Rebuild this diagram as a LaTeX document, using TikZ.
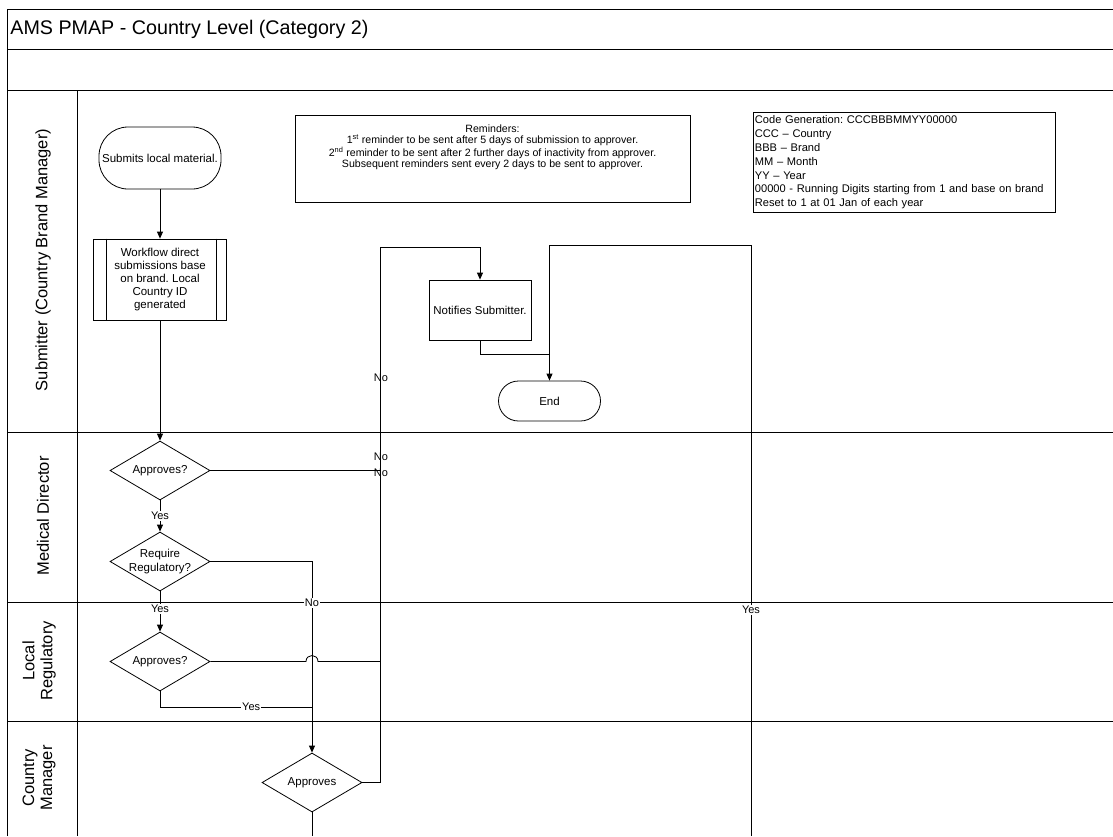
\documentclass[tikz,border=0pt]{standalone}
\usepackage{fontspec}
\setmainfont{Liberation Sans}
\usetikzlibrary{shapes.geometric,arrows.meta}
\frenchspacing

\begin{document}
\begin{tikzpicture}[x=1pt,y=-1pt,line width=0.8pt,font=\fontsize{11.5}{13}\selectfont,
  lane/.style={line width=0.9pt},
  term/.style={draw,rounded corners=#1,inner sep=0pt,align=center},
  proc/.style={draw,inner sep=0pt,align=center},
  decide/.style={draw,diamond,inner sep=0pt,minimum width=100pt,minimum height=59pt,
    label={[align=center,font=\fontsize{11.5}{14}\selectfont]center:#1}},
  flow/.style={-{Triangle[length=7pt,width=6pt]}},
  lbl/.style={fill=white,inner sep=1pt,font=\fontsize{11}{13}\selectfont},
  tag/.style={inner sep=0pt,font=\fontsize{11}{13}\selectfont},
  lanelabel/.style={rotate=90,align=center,font=\fontsize{16.5}{18}\selectfont}]

\useasboundingbox (0,0) rectangle (1113,836);

\draw[lane] (7,836) -- (7,9) -- (1113,9);
\draw[lane] (7,49) -- (1113,49);
\draw[lane] (7,90) -- (1113,90);
\draw[lane] (7,432) -- (1113,432);
\draw[lane] (7,602) -- (1113,602);
\draw[lane] (7,721) -- (1113,721);
\draw[lane] (77,90) -- (77,836);

\node[anchor=west,inner sep=3pt,font=\fontsize{19.7}{22}\selectfont] (title) at (7,29) {AMS PMAP - Country Level (Category 2)};

\node[lanelabel] (subm)  at (43,260) {Submitter (Country Brand Manager)};
\node[lanelabel] (meddir) at (43,516) {Medical Director};
\node[lanelabel] (locreg) at (39,661) {Local\\Regulatory};
\node[lanelabel] (ctrymgr) at (39,778) {Country\\Manager};

\node[term=29pt,minimum width=122pt,minimum height=62pt] (submit) at (160,158) {Submits local material.};
\node[proc,minimum width=133pt,minimum height=81pt] (wf) at (160,279.5) {Workflow direct\\submissions base\\on brand. Local\\Country ID\\generated};
\draw ([xshift=13pt]wf.north west) -- ([xshift=13pt]wf.south west);
\draw ([xshift=-11pt]wf.north east) -- ([xshift=-11pt]wf.south east);

\node[draw,minimum width=395pt,minimum height=87pt] (remind) at (492.5,158.5) {};
\node[align=center,font=\fontsize{10.6}{11.2}\selectfont] (remindtxt) at (492.5,147)
  {Reminders:\\1\textsuperscript{st} reminder to be sent after 5 days of submission to approver.\\2\textsuperscript{nd} reminder to be sent after 2 further days of inactivity from approver.\\Subsequent reminders sent every 2 days to be sent to approver.};

\node[draw,anchor=north west,align=left,text width=299pt,inner xsep=1.5pt,inner ysep=1pt,minimum height=100pt,
  font=\fontsize{11.1}{13.8}\selectfont] (codegen) at (753,112)
  {Code Generation: CCCBBBMMYY00000\\CCC -- Country\\BBB -- Brand\\MM -- Month\\YY -- Year\\00000 - Running Digits starting from 1 and base on brand\\Reset to 1 at 01 Jan of each year};

\node[proc,minimum width=102pt,minimum height=60pt] (notify) at (480,310) {Notifies Submitter.};
\node[term=20pt,minimum width=102pt,minimum height=40pt] (endt) at (549.5,401) {End};

\node[decide={Approves?}] (mdapp) at (160,470.5) {};
\node[decide={Require\\Regulatory?}] (reqreg) at (160,561.5) {};
\node[decide={Approves?}] (lrapp) at (160,661.5) {};
\node[decide={Approves}] (cmapp) at (312,782.5) {};

\coordinate (loopx) at (380,247);
\coordinate (mdjoin) at (380,470.5);
\coordinate (lrjoin) at (380,661.5);
\coordinate (bumpl) at (306,661.5);
\coordinate (bumpr) at (318,661.5);
\coordinate (yesjoin) at (312,707);
\coordinate (endjoin) at (549.5,354);
\coordinate (yestop) at (751,245);
\coordinate (yesbot) at (751,836);
\coordinate (cmbot) at (312,836);

\draw[flow] (submit) -- (wf);
\draw[flow] (wf) -- (mdapp);
\draw (mdapp.east) -- (mdjoin);
\draw[flow] (mdapp) -- (reqreg) node[lbl,pos=0.5] {Yes};
\draw[flow] (reqreg.east) -| (cmapp.north) node[lbl,pos=0.608] {No};
\draw[flow] (reqreg) -- (lrapp) node[lbl,pos=0.44] {Yes};
\draw (lrapp.east) -- (bumpl) .. controls +(0,-8) and +(0,-8) .. (bumpr) -- (lrjoin);
\draw (lrapp.south) |- (yesjoin) node[lbl,pos=0.8] {Yes};
\draw[flow] (cmapp.east) -| (loopx) -| (notify.north);
\draw (cmapp.south) -- (cmbot);
\draw (notify.south) |- (endjoin);
\draw[flow] (yesbot) -- (yestop) -| (endt.north);
\node[lbl] (yesmark) at (751,610) {Yes};

\node[tag] (no1) at (381,378) {No};
\node[tag] (no2) at (381,457) {No};
\node[tag] (no3) at (381,473) {No};
\end{tikzpicture}
\end{document}
